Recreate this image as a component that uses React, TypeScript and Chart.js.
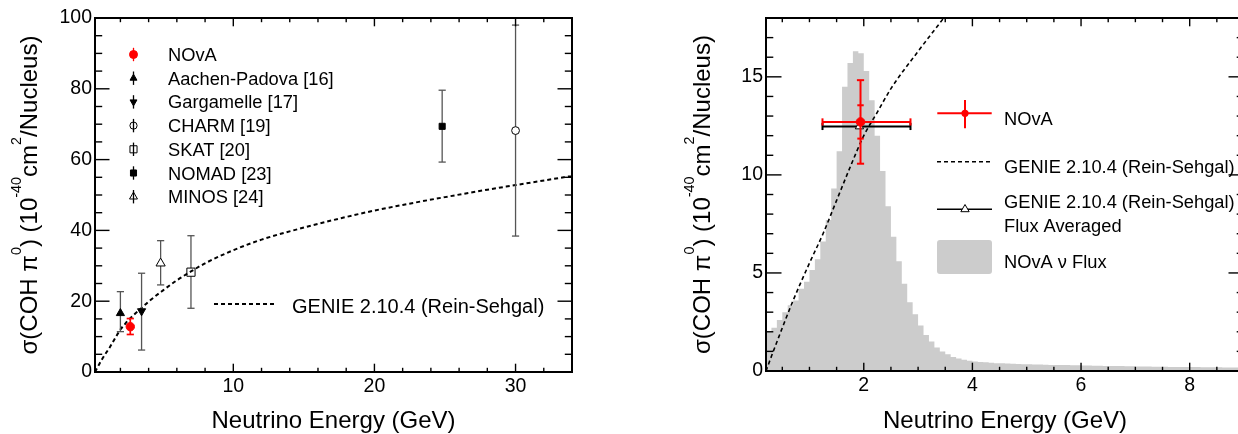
import React, { useEffect, useRef } from 'react';
import { Chart, registerables } from 'chart.js';
import { drawPoint } from 'chart.js/helpers';

Chart.register(...registerables);

const FONT = '"Liberation Sans", Arial, Helvetica, sans-serif';
const TICK_FONT_SIZE = 19.5;
const TITLE_FONT_SIZE = 24;
const LEGEND_FONT_SIZE = 18.3;

// ---------------- Left panel: world measurements ----------------
const EXP_NAMES = ['NOvA', 'Aachen-Padova [16]', 'Gargamelle [17]', 'CHARM [19]', 'SKAT [20]', 'NOMAD [23]', 'MINOS [24]'];
const EXP_ENERGY = [2.7, 2.0, 3.5, 30.0, 7.0, 24.8, 4.85];
const EXP_XSEC = [12.8, 16.6, 17.2, 68.2, 28.2, 69.4, 30.7];
const EXP_ERR_UP = [2.3, 6.1, 10.7, 29.8, 10.3, 10.2, 6.4];
const EXP_ERR_DOWN = [2.2, 5.2, 11.0, 29.8, 10.2, 10.1, 6.1];

// GENIE 2.10.4 (Rein-Sehgal) prediction
const GENIE_ENERGY = [0.2, 0.3, 0.5, 0.7, 1.0, 1.25, 1.5, 1.75, 2.0, 2.25, 2.5, 3.0, 3.5, 4.0, 5.0, 6.0, 7.0, 8.0, 10, 12, 15, 18, 20, 22, 25, 28, 30, 34];
const GENIE_XSEC = [0.0, 0.75, 2.2, 3.6, 5.5, 7.0, 8.7, 10.4, 12.0, 13.2, 14.4, 16.3, 18.1, 19.9, 23.0, 25.9, 28.4, 30.7, 34.4, 37.4, 40.8, 43.8, 45.6, 47.2, 49.4, 51.5, 52.8, 55.4];

const LEFT_X_TICKS = [10, 20, 30];
const LEFT_Y_TICKS = [0, 20, 40, 60, 80, 100];

// ---------------- Right panel: NOvA measurement ----------------
const RIGHT_X_TICKS = [2, 4, 6, 8];
const RIGHT_Y_TICKS = [0, 5, 10, 15];

const FLUX_BIN_LOW_EDGE = 0.2;
const FLUX_BIN_WIDTH = 0.1;
const FLUX_VALUES = [
  2.0, 2.2, 2.6, 3.0, 3.35, 3.6, 4.2, 4.55, 5.15, 5.7,
  6.6, 7.7, 9.3, 11.2, 14.5, 15.7, 16.3, 16.2, 15.3, 13.8,
  12.0, 10.2, 8.4, 6.85, 5.6, 4.45, 3.5, 2.9, 2.32, 1.84,
  1.5, 1.2, 1.0, 0.85, 0.72, 0.64, 0.57, 0.52, 0.49, 0.46,
  0.44, 0.42, 0.40, 0.39, 0.38, 0.37, 0.36, 0.35, 0.34, 0.33,
  0.33, 0.32, 0.31, 0.31, 0.30, 0.30, 0.29, 0.29, 0.28, 0.28,
  0.27, 0.27, 0.26, 0.26, 0.25, 0.25, 0.24, 0.24, 0.23, 0.23,
  0.23, 0.22, 0.22, 0.22, 0.21, 0.21, 0.21, 0.20, 0.20, 0.20,
  0.19, 0.19, 0.19, 0.19, 0.18, 0.18, 0.18, 0.18,
];

const NOVA_ENERGY = [1.94];
const NOVA_XSEC = [12.7];
const NOVA_E_LOW = [1.24];
const NOVA_E_HIGH = [2.86];
const NOVA_TOTAL_ERR = [2.13];
const NOVA_STAT_ERR = [0.85];

const GENIE_AVG_ENERGY = [1.92];
const GENIE_AVG_XSEC = [12.47];
const GENIE_AVG_E_LOW = [1.24];
const GENIE_AVG_E_HIGH = [2.86];

// ---------------- styles ----------------
type MarkerStyle = { style: string; radius: number; rotation: number; filled: boolean; color: string; bar: string; barWidth: number; gapUp: number; gapDown: number; legendRadius: number };
const EXP_STYLE: Record<string, MarkerStyle> = {
  'NOvA': { style: 'circle', radius: 4.2, rotation: 0, filled: true, color: '#ff0000', bar: '#ff0000', barWidth: 1.7, gapUp: 0, gapDown: 0, legendRadius: 4 },
  'Aachen-Padova [16]': { style: 'triangle', radius: 4.7, rotation: 0, filled: true, color: '#000000', bar: '#555555', barWidth: 1.3, gapUp: 0, gapDown: 0, legendRadius: 4 },
  'Gargamelle [17]': { style: 'triangle', radius: 4.7, rotation: 180, filled: true, color: '#000000', bar: '#555555', barWidth: 1.3, gapUp: 0, gapDown: 0, legendRadius: 4 },
  'CHARM [19]': { style: 'circle', radius: 3.9, rotation: 0, filled: false, color: '#000000', bar: '#555555', barWidth: 1.3, gapUp: 3.9, gapDown: 3.9, legendRadius: 3.6 },
  'SKAT [20]': { style: 'rect', radius: 5.8, rotation: 0, filled: false, color: '#000000', bar: '#555555', barWidth: 1.3, gapUp: 4.1, gapDown: 4.1, legendRadius: 5 },
  'NOMAD [23]': { style: 'rect', radius: 4.3, rotation: 0, filled: true, color: '#000000', bar: '#555555', barWidth: 1.3, gapUp: 0, gapDown: 0, legendRadius: 4.3 },
  'MINOS [24]': { style: 'triangle', radius: 5.3, rotation: 0, filled: false, color: '#000000', bar: '#555555', barWidth: 1.3, gapUp: 5.3, gapDown: 2.7, legendRadius: 4.6 },
};

// ---------------- plugins ----------------
const seg = (ctx: CanvasRenderingContext2D, x1: number, y1: number, x2: number, y2: number) => {
  ctx.beginPath();
  ctx.moveTo(x1, y1);
  ctx.lineTo(x2, y2);
  ctx.stroke();
};

const errorBarPlugin = {
  id: 'errorBars',
  beforeDatasetDraw(chart: any, args: any) {
    const ds = chart.data.datasets[args.index];
    const e = ds.errorBars;
    if (!e) return;
    const { ctx, chartArea: a } = chart;
    const xs = chart.scales.x;
    const ys = chart.scales.y;
    ctx.save();
    ctx.beginPath();
    ctx.rect(a.left, a.top, a.right - a.left, a.bottom - a.top);
    ctx.clip();
    ctx.strokeStyle = e.color;
    ctx.lineWidth = e.width;
    ds.data.forEach((p: any, i: number) => {
      const px = xs.getPixelForValue(p.x);
      const py = ys.getPixelForValue(p.y);
      if (e.xLow && e.xHigh) {
        const l = xs.getPixelForValue(e.xLow[i]);
        const r = xs.getPixelForValue(e.xHigh[i]);
        seg(ctx, l, py, r, py);
        seg(ctx, l, py - e.cap, l, py + e.cap);
        seg(ctx, r, py - e.cap, r, py + e.cap);
      }
      if (e.yLow && e.yHigh) {
        const lo = ys.getPixelForValue(e.yLow[i]);
        const hi = ys.getPixelForValue(e.yHigh[i]);
        seg(ctx, px, py + (e.gapDown || 0), px, lo);
        seg(ctx, px, py - (e.gapUp || 0), px, hi);
        seg(ctx, px - e.cap, lo, px + e.cap, lo);
        seg(ctx, px - e.cap, hi, px + e.cap, hi);
      }
      if (e.yInnerLow && e.yInnerHigh) {
        const lo = ys.getPixelForValue(e.yInnerLow[i]);
        const hi = ys.getPixelForValue(e.yInnerHigh[i]);
        seg(ctx, px - e.innerCap, lo, px + e.innerCap, lo);
        seg(ctx, px - e.innerCap, hi, px + e.innerCap, hi);
      }
    });
    ctx.restore();
  },
};

type Part = { t: string; sup?: boolean };
const Y_TITLE: Part[] = [
  { t: 'σ(COH ' }, { t: 'π' }, { t: '0', sup: true }, { t: ') (10' }, { t: '-40', sup: true },
  { t: 'cm' }, { t: '2', sup: true }, { t: '/Nucleus)' },
];
const X_TITLE = 'Neutrino Energy (GeV)';

function drawRotatedRich(ctx: CanvasRenderingContext2D, parts: Part[], size: number, cx: number, cy: number) {
  const supSize = size * 0.6;
  ctx.save();
  ctx.translate(cx, cy);
  ctx.rotate(-Math.PI / 2);
  ctx.fillStyle = '#000';
  ctx.textBaseline = 'alphabetic';
  ctx.textAlign = 'left';
  let total = 0;
  const widths = parts.map((p) => {
    ctx.font = `${p.sup ? supSize : size}px ${FONT}`;
    const w = ctx.measureText(p.t).width;
    total += w;
    return w;
  });
  let xx = -total / 2;
  parts.forEach((p, i) => {
    ctx.font = `${p.sup ? supSize : size}px ${FONT}`;
    ctx.fillText(p.t, xx, p.sup ? -size * 0.66 : 0);
    xx += widths[i];
  });
  ctx.restore();
}

type FrameCfg = { id: string; xMinor: number; xMajor: number; yMinor: number; yMajor: number; xMajorLen: number; xMinorLen: number; yMajorLen: number; yMinorLen: number; yTitleX: number; xTitleY: number };

function makeFramePlugin(cfg: FrameCfg) {
  return {
    id: cfg.id,
    afterDraw(chart: any) {
      const { ctx, chartArea: a } = chart;
      const xs = chart.scales.x;
      const ys = chart.scales.y;
      ctx.save();
      ctx.strokeStyle = '#000';
      ctx.lineWidth = 1.4;
      const isMajor = (v: number, m: number) => Math.abs(v / m - Math.round(v / m)) < 1e-6;
      const kx0 = Math.ceil(xs.min / cfg.xMinor - 1e-9);
      const kx1 = Math.floor(xs.max / cfg.xMinor + 1e-9);
      for (let k = kx0; k <= kx1; k++) {
        const v = k * cfg.xMinor;
        const len = isMajor(v, cfg.xMajor) ? cfg.xMajorLen : cfg.xMinorLen;
        const px = xs.getPixelForValue(v);
        seg(ctx, px, a.bottom, px, a.bottom - len);
        seg(ctx, px, a.top, px, a.top + len);
      }
      const ky0 = Math.ceil(ys.min / cfg.yMinor - 1e-9);
      const ky1 = Math.floor(ys.max / cfg.yMinor + 1e-9);
      for (let k = ky0; k <= ky1; k++) {
        const v = k * cfg.yMinor;
        const len = isMajor(v, cfg.yMajor) ? cfg.yMajorLen : cfg.yMinorLen;
        const py = ys.getPixelForValue(v);
        seg(ctx, a.left, py, a.left + len, py);
        seg(ctx, a.right, py, a.right - len, py);
      }
      ctx.lineWidth = 2;
      ctx.strokeRect(a.left, a.top, a.right - a.left, a.bottom - a.top);
      ctx.restore();

      drawRotatedRich(ctx, Y_TITLE, TITLE_FONT_SIZE, cfg.yTitleX, (a.top + a.bottom) / 2);
      ctx.save();
      ctx.fillStyle = '#000';
      ctx.font = `${TITLE_FONT_SIZE}px ${FONT}`;
      ctx.textAlign = 'center';
      ctx.textBaseline = 'alphabetic';
      ctx.fillText(X_TITLE, (a.left + a.right) / 2, cfg.xTitleY);
      ctx.restore();
    },
  };
}

const leftLegendPlugin = {
  id: 'leftLegend',
  afterDraw(chart: any) {
    const ctx: CanvasRenderingContext2D = chart.ctx;
    ctx.save();
    EXP_NAMES.forEach((name, i) => {
      const st = EXP_STYLE[name];
      const yy = 54.5 + i * 23.7;
      const xx = 133.5;
      ctx.strokeStyle = st.filled && name === 'NOvA' ? '#ff0000' : '#000';
      ctx.lineWidth = 1.3;
      seg(ctx, xx, yy - 6.7, xx, yy + 6.7);
      ctx.fillStyle = st.filled ? st.color : 'rgba(0,0,0,0)';
      ctx.strokeStyle = st.color;
      ctx.lineWidth = 1;
      drawPoint(ctx, { pointStyle: st.style as any, radius: st.legendRadius, rotation: st.rotation, borderWidth: 1 } as any, xx, yy);
      ctx.fillStyle = '#000';
      ctx.font = `${LEGEND_FONT_SIZE}px ${FONT}`;
      ctx.textAlign = 'left';
      ctx.textBaseline = 'alphabetic';
      ctx.fillText(name, 168, yy + 0.358 * LEGEND_FONT_SIZE);
    });
    // GENIE entry
    ctx.strokeStyle = '#000';
    ctx.lineWidth = 2;
    ctx.setLineDash([4, 3]);
    seg(ctx, 214, 304, 277, 304);
    ctx.setLineDash([]);
    ctx.fillStyle = '#000';
    ctx.font = `20px ${FONT}`;
    ctx.fillText('GENIE 2.10.4 (Rein-Sehgal)', 292, 313);
    ctx.restore();
  },
};

const rightLegendPlugin = {
  id: 'rightLegend',
  afterDraw(chart: any) {
    const ctx: CanvasRenderingContext2D = chart.ctx;
    ctx.save();
    // NOvA
    ctx.strokeStyle = '#ff0000';
    ctx.lineWidth = 2;
    seg(ctx, 297.3, 113.3, 351.7, 113.3);
    seg(ctx, 325, 100, 325, 128.3);
    ctx.fillStyle = '#ff0000';
    ctx.beginPath();
    ctx.arc(325, 113.3, 3.6, 0, Math.PI * 2);
    ctx.fill();
    // GENIE dashed
    ctx.strokeStyle = '#000';
    ctx.lineWidth = 1.5;
    ctx.setLineDash([4, 3]);
    seg(ctx, 297, 161.7, 352, 161.7);
    ctx.setLineDash([]);
    // flux averaged
    seg(ctx, 297, 209.3, 352, 209.3);
    ctx.fillStyle = '#fff';
    ctx.lineWidth = 1;
    drawPoint(ctx, { pointStyle: 'triangle', radius: 4.8, rotation: 0, borderWidth: 1 } as any, 325, 209.3);
    // flux box
    ctx.fillStyle = '#cccccc';
    ctx.beginPath();
    (ctx as any).roundRect ? (ctx as any).roundRect(297, 240, 55, 34, 3) : ctx.rect(297, 240, 55, 34);
    ctx.fill();
    // texts
    ctx.fillStyle = '#000';
    ctx.font = `${LEGEND_FONT_SIZE}px ${FONT}`;
    ctx.textAlign = 'left';
    ctx.textBaseline = 'alphabetic';
    ctx.fillText('NOvA', 364, 125.2);
    ctx.fillText('GENIE 2.10.4 (Rein-Sehgal)', 364, 173.3);
    ctx.fillText('GENIE 2.10.4 (Rein-Sehgal)', 364, 208.3);
    ctx.fillText('Flux Averaged', 364, 231.7);
    ctx.fillText('NOvA ν Flux', 364, 268.3);
    ctx.restore();
  },
};

// ---------------- configs ----------------
const tickFont = { family: FONT, size: TICK_FONT_SIZE };

function axisOpts(min: number, max: number, ticks: number[], fit: (s: any) => void, padding: number) {
  return {
    type: 'linear',
    min,
    max,
    afterBuildTicks: (s: any) => { s.ticks = ticks.map((v) => ({ value: v })); },
    afterFit: fit,
    grid: { display: false, drawTicks: false },
    border: { display: false },
    ticks: { font: tickFont, color: '#000', padding, maxRotation: 0, autoSkip: false, callback: (v: any) => String(v) },
  };
}

const genieData = GENIE_ENERGY.map((e, i) => ({ x: e, y: GENIE_XSEC[i] }));

function buildLeftConfig() {
  const expSets = EXP_NAMES.map((name, i) => {
    const st = EXP_STYLE[name];
    return {
      label: name,
      data: [{ x: EXP_ENERGY[i], y: EXP_XSEC[i] }],
      showLine: false,
      pointStyle: st.style,
      pointRadius: st.radius,
      pointRotation: st.rotation,
      pointBackgroundColor: st.filled ? st.color : 'rgba(0,0,0,0)',
      pointBorderColor: st.color,
      pointBorderWidth: 1,
      order: name === 'NOvA' ? 1 : 2,
      errorBars: {
        color: st.bar, width: st.barWidth, cap: 3.6, gapUp: st.gapUp, gapDown: st.gapDown,
        yLow: [EXP_XSEC[i] - EXP_ERR_DOWN[i]], yHigh: [EXP_XSEC[i] + EXP_ERR_UP[i]],
      },
    };
  });
  return {
    type: 'line',
    data: {
      datasets: [
        ...expSets,
        {
          label: 'GENIE 2.10.4 (Rein-Sehgal)',
          data: genieData,
          borderColor: '#000',
          borderWidth: 2,
          borderDash: [4, 3],
          pointRadius: 0,
          fill: false,
          cubicInterpolationMode: 'monotone',
          order: 5,
        },
      ],
    },
    options: {
      animation: false,
      responsive: false,
      devicePixelRatio: 1,
      events: [],
      layout: { padding: { left: 0, top: 18, right: 48, bottom: 0 } },
      plugins: { legend: { display: false }, tooltip: { enabled: false } },
      scales: {
        x: axisOpts(0.2, 34, LEFT_X_TICKS, (s: any) => { s.height = 62; }, 3),
        y: axisOpts(0, 100, LEFT_Y_TICKS, (s: any) => { s.width = 95; }, 3),
      },
    },
    plugins: [
      errorBarPlugin,
      makeFramePlugin({ id: 'frameL', xMinor: 2, xMajor: 10, yMinor: 5, yMajor: 20, xMajorLen: 8.3, xMinorLen: 4.2, yMajorLen: 14.5, yMinorLen: 7.2, yTitleX: 36.5, xTitleY: 428 }),
      leftLegendPlugin,
    ],
  };
}

function buildRightConfig() {
  const fluxData = FLUX_VALUES.map((v, i) => ({ x: FLUX_BIN_LOW_EDGE + i * FLUX_BIN_WIDTH, y: v }));
  fluxData.push({ x: FLUX_BIN_LOW_EDGE + FLUX_VALUES.length * FLUX_BIN_WIDTH, y: FLUX_VALUES[FLUX_VALUES.length - 1] });
  return {
    type: 'line',
    data: {
      datasets: [
        {
          label: 'NOvA',
          data: NOVA_ENERGY.map((e, i) => ({ x: e, y: NOVA_XSEC[i] })),
          showLine: false,
          pointStyle: 'circle',
          pointRadius: 4.3,
          pointBackgroundColor: '#ff0000',
          pointBorderColor: '#ff0000',
          pointBorderWidth: 1,
          order: 1,
          errorBars: {
            color: '#ff0000', width: 2, cap: 3.6, innerCap: 3.2,
            xLow: NOVA_E_LOW, xHigh: NOVA_E_HIGH,
            yLow: NOVA_XSEC.map((v, i) => v - NOVA_TOTAL_ERR[i]), yHigh: NOVA_XSEC.map((v, i) => v + NOVA_TOTAL_ERR[i]),
            yInnerLow: NOVA_XSEC.map((v, i) => v - NOVA_STAT_ERR[i]), yInnerHigh: NOVA_XSEC.map((v, i) => v + NOVA_STAT_ERR[i]),
          },
        },
        {
          label: 'GENIE 2.10.4 (Rein-Sehgal) Flux Averaged',
          data: GENIE_AVG_ENERGY.map((e, i) => ({ x: e, y: GENIE_AVG_XSEC[i] })),
          showLine: false,
          pointStyle: 'triangle',
          pointRadius: 4.8,
          pointBackgroundColor: '#ffffff',
          pointBorderColor: '#000',
          pointBorderWidth: 1,
          order: 2,
          errorBars: { color: '#000', width: 2, cap: 3.6, xLow: GENIE_AVG_E_LOW, xHigh: GENIE_AVG_E_HIGH },
        },
        {
          label: 'GENIE 2.10.4 (Rein-Sehgal)',
          data: genieData,
          borderColor: '#000',
          borderWidth: 1.6,
          borderDash: [4, 3],
          pointRadius: 0,
          fill: false,
          cubicInterpolationMode: 'monotone',
          order: 5,
        },
        {
          label: 'NOvA ν Flux',
          data: fluxData,
          stepped: 'before',
          borderWidth: 0,
          borderColor: 'rgba(0,0,0,0)',
          backgroundColor: '#cccccc',
          fill: 'origin',
          pointRadius: 0,
          order: 10,
        },
      ],
    },
    options: {
      animation: false,
      responsive: false,
      devicePixelRatio: 1,
      events: [],
      layout: { padding: { left: 0, top: 18, right: 46, bottom: 0 } },
      plugins: { legend: { display: false }, tooltip: { enabled: false } },
      scales: {
        x: axisOpts(0.2, 9, RIGHT_X_TICKS, (s: any) => { s.height = 63; }, 3),
        y: axisOpts(0, 18, RIGHT_Y_TICKS, (s: any) => { s.width = 126; }, 3),
      },
    },
    plugins: [
      errorBarPlugin,
      makeFramePlugin({ id: 'frameR', xMinor: 0.5, xMajor: 2, yMinor: 1, yMajor: 5, xMajorLen: 8.3, xMinorLen: 4.2, yMajorLen: 15.5, yMinorLen: 7.3, yTitleX: 70, xTitleY: 428 }),
      rightLegendPlugin,
    ],
  };
}

export default function App() {
  const leftRef = useRef<HTMLCanvasElement>(null);
  const rightRef = useRef<HTMLCanvasElement>(null);
  useEffect(() => {
    const l = new Chart(leftRef.current as HTMLCanvasElement, buildLeftConfig() as any);
    const r = new Chart(rightRef.current as HTMLCanvasElement, buildRightConfig() as any);
    return () => {
      l.destroy();
      r.destroy();
    };
  }, []);
  return (
    <div style={{ position: 'fixed', left: 0, top: 0, width: 1238, height: 434, overflow: 'hidden', background: '#fff' }}>
      <canvas ref={leftRef} width={620} height={434} style={{ position: 'absolute', left: 0, top: 0, width: 620, height: 434 }} />
      <canvas ref={rightRef} width={650} height={434} style={{ position: 'absolute', left: 640, top: 0, width: 650, height: 434 }} />
    </div>
  );
}
